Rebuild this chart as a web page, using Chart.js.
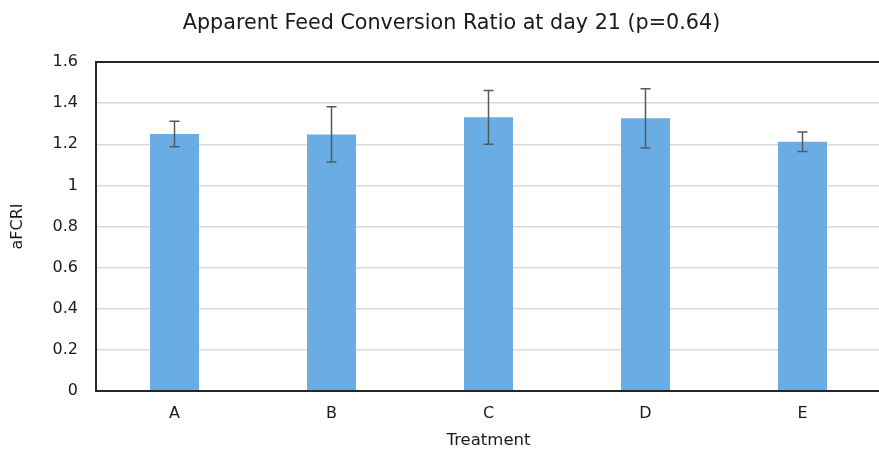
<!DOCTYPE html>
<html>
<head>
<meta charset="utf-8">
<script src="https://cdn.jsdelivr.net/npm/chart.js@4/dist/chart.umd.min.js"></script>
<style>
  html, body { margin: 0; padding: 0; background: #fff; overflow: hidden; }
  #wrap { width: 879px; height: 453px; overflow: hidden; }
</style>
</head>
<body>
<div id="wrap"><canvas id="c" width="903" height="453"></canvas></div>
<script>
// Treatments and mean apparent FCR at day 21, with standard errors
const treatments = ['A', 'B', 'C', 'D', 'E'];
const afcr = [1.250, 1.248, 1.331, 1.326, 1.212];
const afcrErr = [0.062, 0.134, 0.131, 0.144, 0.047];
const yTickLabels = ['0', '0.2', '0.4', '0.6', '0.8', '1', '1.2', '1.4', '1.6'];

const FONT = "'DejaVu Sans', Verdana, sans-serif";
const TEXT = '#1a1a1a';

// Whisker lines with caps, placed through the chart's own scales
const errorBars = {
  id: 'errorBars',
  afterDatasetsDraw(chart) {
    const { ctx, scales: { x, y } } = chart;
    ctx.save();
    ctx.strokeStyle = '#595959';
    ctx.lineWidth = 1.5;
    afcr.forEach((v, i) => {
      const px = x.getPixelForValue(i);
      const top = y.getPixelForValue(v + afcrErr[i]);
      const bot = y.getPixelForValue(v - afcrErr[i]);
      ctx.beginPath();
      ctx.moveTo(px, top); ctx.lineTo(px, bot);
      ctx.moveTo(px - 5, top); ctx.lineTo(px + 5, top);
      ctx.moveTo(px - 5, bot); ctx.lineTo(px + 5, bot);
      ctx.stroke();
    });
    ctx.restore();
  }
};

// Dark frame round the plot area
const plotFrame = {
  id: 'plotFrame',
  afterDraw(chart) {
    const { ctx, chartArea: a } = chart;
    ctx.save();
    ctx.strokeStyle = '#262626';
    ctx.lineWidth = 2;
    ctx.strokeRect(a.left, a.top, a.right - a.left, a.bottom - a.top);
    ctx.restore();
  }
};

new Chart(document.getElementById('c'), {
  type: 'bar',
  data: {
    labels: treatments,
    datasets: [{
      data: afcr,
      backgroundColor: '#6aace4',
      borderWidth: 0,
      categoryPercentage: 1,
      barPercentage: 0.312
    }]
  },
  options: {
    responsive: false,
    animation: false,
    layout: { padding: 0 },
    plugins: {
      legend: { display: false },
      tooltip: { enabled: false },
      title: {
        display: true,
        text: 'Apparent Feed Conversion Ratio at day 21 (p=0.64)',
        color: TEXT,
        font: { family: FONT, size: 20.7, weight: 'normal', lineHeight: 1.2 },
        padding: { top: 11.6, bottom: 25.56 }
      }
    },
    scales: {
      x: {
        grid: { display: false, drawTicks: false },
        border: { display: false },
        ticks: { color: TEXT, font: { family: FONT, size: 16 }, padding: 13 },
        title: {
          display: true, text: 'Treatment', color: TEXT,
          font: { family: FONT, size: 16.5 }, padding: { top: 0, bottom: 2 }
        },
        afterFit(s) { s.height = 62; }
      },
      y: {
        min: 0, max: 1.6,
        grid: { color: '#d9d9d9', lineWidth: 1.5, drawTicks: false },
        border: { display: false },
        ticks: {
          stepSize: 0.2, color: TEXT, font: { family: FONT, size: 16 }, padding: 18,
          callback: (v, i) => yTickLabels[i]
        },
        title: {
          display: true, text: 'aFCRI', color: TEXT,
          font: { family: FONT, size: 16 }, padding: { top: 8, bottom: 0 }
        },
        afterFit(s) { s.width = 96; }
      },
      // empty right-hand margin so the plot ends short of the canvas edge
      yRight: {
        type: 'linear', position: 'right', min: 0, max: 1.6,
        grid: { display: false, drawTicks: false },
        border: { display: false },
        ticks: { display: false },
        afterFit(s) { s.width = 22; }
      }
    }
  },
  plugins: [errorBars, plotFrame]
});
</script>
</body>
</html>
